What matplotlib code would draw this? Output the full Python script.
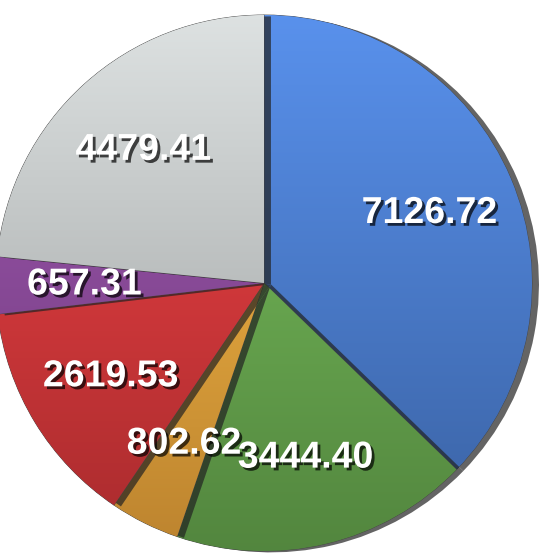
import matplotlib
matplotlib.use('Agg')
import matplotlib.pyplot as plt
import matplotlib.patheffects as pe
import numpy as np
from matplotlib.colors import to_rgb

values = [7126.72, 3444.40, 802.62, 2619.53, 657.31, 4479.41]
labels = ['7126.72', '3444.40', '802.62', '2619.53', '657.31', '4479.41']
colors = ['#4a7dd0', '#6aac50', '#f2a93c', '#d8373a', '#8c4a9c', '#c2c6c6']

fig = plt.figure(figsize=(5.41, 5.54), dpi=100)
ax = fig.add_axes([0, 0, 1, 1])

cx, cy, R = 264, 554 - 283, 268

wedges, texts, autotexts = ax.pie(values, colors=colors, startangle=90, counterclock=False,
                                  center=(cx, cy), radius=R, autopct='%.2f', pctdistance=0.67,
                                  frame=True,
                                  wedgeprops=dict(linewidth=0.6, edgecolor='#444444'))
ax.set_xlim(0, 541)
ax.set_ylim(0, 554)
ax.set_aspect('equal')
ax.axis('off')

# fake 3d look: per-wedge shadow + vertical gradient
for i, (w, c) in enumerate(zip(wedges, colors)):
    w.set_zorder(2 * i + 2)
    w.set_path_effects([pe.SimplePatchShadow(offset=(5, -1), shadow_rgbFace='#222222', alpha=0.7),
                        pe.Normal()])
    base = np.array(to_rgb(c))
    top = np.clip(base * 1.1 + 0.03, 0, 1)
    bot = base * 0.78
    t = np.linspace(0, 1, 256)[:, None]
    grad = top[None, :] * (1 - t) + bot[None, :] * t
    img = ax.imshow(grad[:, None, :], extent=(cx - R, cx + R, cy - R, cy + R),
                    origin='upper', aspect='auto', zorder=2 * i + 3)
    img.set_clip_path(w)

ax.set_xlim(0, 541)
ax.set_ylim(0, 554)

for at, lab in zip(autotexts, labels):
    at.set_text(lab)
    at.set_color('white')
    at.set_fontfamily('Liberation Sans')
    at.set_fontweight('bold')
    at.set_fontsize(27)
    at.set_zorder(50)
    at.set_path_effects([pe.withSimplePatchShadow(offset=(2, -2), shadow_rgbFace='black', alpha=0.7)])

fig.savefig('out.png', dpi=100)
